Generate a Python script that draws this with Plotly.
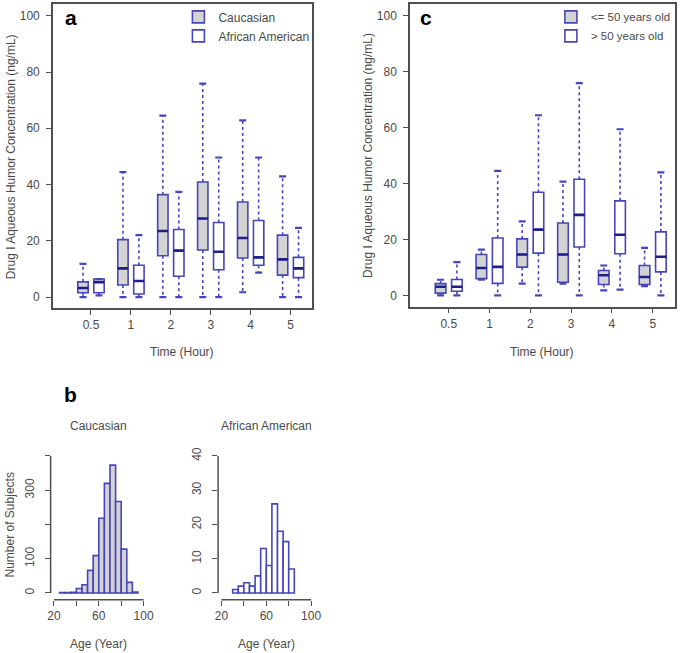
import plotly.graph_objects as go

W, H = 685, 653

# ---------------- data ----------------
time_labels = ['0.5', '1', '2', '3', '4', '5']

# panel a : Caucasian vs African American (box statistics, ng/mL)
cau_low = [0.0, 0.0, 0.0, 0.0, 1.7, 0.0]
cau_q1 = [1.5, 4.3, 14.7, 16.7, 13.9, 7.8]
cau_med = [3.2, 10.2, 23.5, 27.9, 21.0, 13.4]
cau_q3 = [5.4, 20.4, 36.4, 40.9, 33.8, 22.0]
cau_up = [11.8, 44.4, 64.5, 75.9, 62.8, 42.9]

aa_low = [0.6, 0.0, 0.0, 0.0, 8.7, 0.0]
aa_q1 = [1.5, 1.1, 7.4, 9.7, 11.3, 6.9]
aa_med = [5.3, 5.7, 16.5, 16.1, 14.1, 10.2]
aa_q3 = [6.4, 11.3, 24.0, 26.5, 27.2, 14.1]
aa_up = [6.4, 22.0, 37.4, 49.6, 49.6, 24.6]

# panel c : <= 50 vs > 50 years old
young_low = [0.0, 5.6, 4.2, 4.2, 1.8, 3.3]
young_q1 = [0.8, 6.0, 10.1, 4.7, 3.9, 3.9]
young_med = [3.1, 9.8, 14.6, 14.6, 7.2, 6.6]
young_q3 = [4.2, 14.6, 20.2, 25.9, 8.9, 10.7]
young_up = [5.6, 16.4, 26.5, 40.7, 10.7, 17.0]

old_low = [0.0, 0.0, 0.0, 0.0, 2.1, 0.0]
old_q1 = [1.5, 4.3, 15.1, 17.3, 14.9, 8.4]
old_med = [3.1, 10.2, 23.5, 28.8, 21.7, 13.8]
old_q3 = [5.7, 20.5, 36.9, 41.5, 33.8, 22.7]
old_up = [11.9, 44.5, 64.4, 75.9, 59.4, 44.0]

# panel b : age histograms (5-year bins, left edges)
cau_bin_start = [25, 30, 35, 40, 45, 50, 55, 60, 65, 70, 75, 80, 85, 90]
cau_counts = [1, 1, 2, 13, 24, 66, 109, 218, 320, 373, 267, 128, 31, 3]
aa_bin_start = [30, 35, 40, 45, 50, 55, 60, 65, 70, 75, 80]
aa_counts = [1, 2, 3, 2, 5, 13, 8, 26, 18, 15, 7]
BIN = 5

# ---------------- style ----------------
BLUE = '#4646b8'
NAVY = '#1e1e8c'
FILL = '#d3d3d3'
FRAME = '#505050'
TXT = '#4a4a4a'
FONT = 'Arial, Liberation Sans, sans-serif'
OFF = 0.2
BW = 0.26


def px(x):
    return x / W


def py(y):
    return 1 - y / H


fig = go.Figure()


def add_box_group(xa, ya, idx_off, low, q1, med, q3, up, fill, name, legend):
    pos = [i + idx_off for i in range(len(med))]
    fig.add_trace(go.Box(
        x=pos, q1=q1, median=med, q3=q3, lowerfence=q1, upperfence=q3,
        width=BW, whiskerwidth=0, fillcolor=fill,
        line=dict(color=BLUE, width=1.6), name=name, legend=legend,
        xaxis=xa, yaxis=ya, hoverinfo='skip', boxpoints=False))
    # dotted whiskers
    wx, wy = [], []
    for p, lo, a, b, hi in zip(pos, low, q1, q3, up):
        wx += [p, p, None, p, p, None]
        wy += [b, hi, None, a, lo, None]
    fig.add_trace(go.Scatter(x=wx, y=wy, mode='lines', xaxis=xa, yaxis=ya,
                             line=dict(color=BLUE, width=1.6, dash='dot'),
                             showlegend=False, hoverinfo='skip'))
    # staples
    fig.add_trace(go.Scatter(x=pos + pos, y=up + low, mode='markers', xaxis=xa, yaxis=ya,
                             marker=dict(symbol='line-ew', size=5,
                                         line=dict(color=BLUE, width=2.2)),
                             showlegend=False, hoverinfo='skip'))
    # median
    mx, my = [], []
    for p, m in zip(pos, med):
        mx += [p - BW / 2, p + BW / 2, None]
        my += [m, m, None]
    fig.add_trace(go.Scatter(x=mx, y=my, mode='lines', xaxis=xa, yaxis=ya,
                             line=dict(color=NAVY, width=2.6),
                             showlegend=False, hoverinfo='skip'))


add_box_group('x', 'y', -OFF, cau_low, cau_q1, cau_med, cau_q3, cau_up, FILL, 'Caucasian', 'legend')
add_box_group('x', 'y', OFF, aa_low, aa_q1, aa_med, aa_q3, aa_up, 'white', 'African American', 'legend')
add_box_group('x2', 'y2', -OFF, young_low, young_q1, young_med, young_q3, young_up, FILL,
              '<= 50 years old', 'legend2')
add_box_group('x2', 'y2', OFF, old_low, old_q1, old_med, old_q3, old_up, 'white',
              '> 50 years old', 'legend2')

# histograms
fig.add_trace(go.Bar(x=[s + BIN / 2 for s in cau_bin_start], y=cau_counts, width=BIN,
                     marker=dict(color=FILL, line=dict(color=BLUE, width=1.6)),
                     xaxis='x3', yaxis='y3', showlegend=False, hoverinfo='skip'))
fig.add_trace(go.Bar(x=[s + BIN / 2 for s in aa_bin_start], y=aa_counts, width=BIN,
                     marker=dict(color='white', line=dict(color=BLUE, width=1.6)),
                     xaxis='x4', yaxis='y4', showlegend=False, hoverinfo='skip'))

tickfont = dict(family=FONT, size=12, color=TXT)
box_x = dict(range=[-0.953, 5.53], tickvals=list(range(6)), ticktext=time_labels,
             ticks='outside', ticklen=5, tickcolor=FRAME, tickwidth=1.2,
             showline=True, mirror=True, linecolor=FRAME, linewidth=1.5,
             showgrid=False, zeroline=False, tickfont=tickfont)
box_y = dict(range=[-4, 104], tickvals=[0, 20, 40, 60, 80, 100],
             ticks='outside', ticklen=5, tickcolor=FRAME, tickwidth=1.2,
             showline=True, mirror=True, linecolor=FRAME, linewidth=1.5,
             showgrid=False, zeroline=False, tickfont=tickfont, ticklabelstandoff=4)

hx_ticks = [20, 40, 60, 80, 100]
hx_text = ['20', '', '60', '', '100']
hist_x = dict(range=[17, 103], tickvals=hx_ticks, ticktext=hx_text, ticks='outside',
              ticklen=5, tickcolor=FRAME, tickwidth=1.2, showline=False,
              showgrid=False, zeroline=False, tickfont=tickfont)
hist_y = dict(ticks='outside', ticklen=5, tickcolor=FRAME, tickwidth=1.2, showline=False,
              showgrid=False, zeroline=False, tickfont=tickfont, tickangle=-90,
              ticklabelstandoff=6)
cau_yt = [0, 100, 200, 300, 400]
cau_ytext = ['0', '100', '', '300', '']
aa_yt = [0, 10, 20, 30, 40]

fig.update_layout(
    width=W, height=H, margin=dict(l=0, r=0, t=0, b=0),
    paper_bgcolor='white', plot_bgcolor='white',
    boxmode='overlay', barmode='overlay',
    font=dict(family=FONT, size=12, color=TXT),
    xaxis=dict(domain=[px(50.7), px(313.3)], anchor='y', **box_x),
    yaxis=dict(domain=[py(306.7), py(1.5)], anchor='x', **box_y),
    xaxis2=dict(domain=[px(413), px(681.7)], anchor='y2', **box_x | dict(range=[-0.95, 5.54])),
    yaxis2=dict(domain=[py(305), py(1.5)], anchor='x2', **box_y),
    xaxis3=dict(domain=[px(48.3), px(146.1)], anchor='y3', **hist_x),
    yaxis3=dict(domain=[py(599.6), py(449.5)], anchor='x3', range=[-20, 416],
                tickvals=cau_yt, ticktext=cau_ytext, **hist_y),
    xaxis4=dict(domain=[px(218.3), px(316.1)], anchor='y4', **hist_x),
    yaxis4=dict(domain=[py(599.6), py(449.5)], anchor='x4', range=[-2, 41.6],
                tickvals=aa_yt, **hist_y),
    legend=dict(x=px(178), y=py(23.5), xanchor='left', yanchor='middle',
                bgcolor='rgba(0,0,0,0)', font=dict(family=FONT, size=12, color=TXT),
                itemwidth=30, tracegroupgap=0),
    legend2=dict(x=px(556), y=py(23.5), xanchor='left', yanchor='middle',
                 bgcolor='rgba(0,0,0,0)', font=dict(family=FONT, size=11.5, color=TXT),
                 itemwidth=30, tracegroupgap=0),
)

# R-style axis lines spanning only the tick range (histograms)
for xa, ya, yt in [('x3', 'y3', cau_yt), ('x4', 'y4', aa_yt)]:
    fig.add_shape(type='line', xref=xa, yref=ya + ' domain', x0=min(hx_ticks), x1=max(hx_ticks),
                  y0=0, y1=0, line=dict(color=FRAME, width=1.5))
    fig.add_shape(type='line', xref=xa + ' domain', yref=ya, x0=0, x1=0,
                  y0=min(yt), y1=max(yt), line=dict(color=FRAME, width=1.5))


def note(text, x, y, size=12, color=TXT, bold=False, angle=0):
    fig.add_annotation(text=f'<b>{text}</b>' if bold else text, x=px(x), y=py(y),
                       xref='paper', yref='paper', showarrow=False, xanchor='center',
                       yanchor='middle', textangle=angle,
                       font=dict(family=FONT, size=size, color=color))


note('a', 69, 15, size=21, color='black', bold=True)
note('c', 429, 15, size=21, color='black', bold=True)
note('b', 69, 393, size=21, color='black', bold=True)

ytitle = 'Drug I Aqueous Humor Concentration (ng/mL)'
note(ytitle, 8, 154, angle=-90)
note(ytitle, 371, 153, angle=-90)
note('Time (Hour)', 182, 351)
note('Time (Hour)', 547, 351)

note('Caucasian', 97, 425)
note('African American', 267, 425)
note('Number of Subjects', 7, 524, angle=-90)
note('Age (Year)', 97, 644)
note('Age (Year)', 267, 644)

fig.write_html('out.html', config={'displayModeBar': False},
               post_script="document.body.style.margin='0';")
